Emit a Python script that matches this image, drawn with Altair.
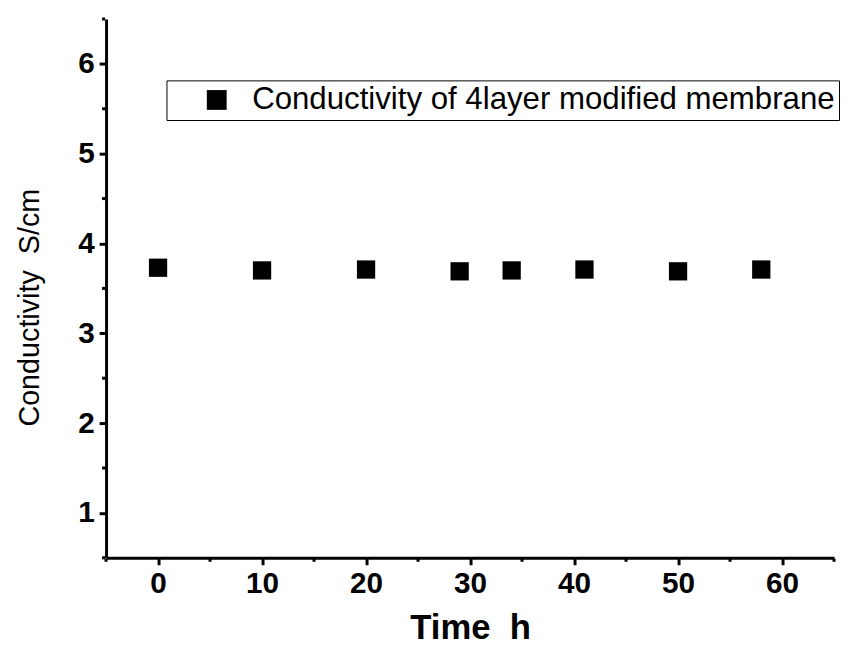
import altair as alt
import pandas as pd

# data
time_h = [0, 10, 20, 29, 34, 41, 50, 58]
conductivity = [3.73, 3.70, 3.71, 3.69, 3.70, 3.71, 3.69, 3.71]
series_name = "Conductivity of 4layer modified membrane"

x_ticks = [0, 10, 20, 30, 40, 50, 60]
x_minor = [-5, 5, 15, 25, 35, 45, 55, 65]
y_ticks = [1, 2, 3, 4, 5, 6]
y_minor = [0.5, 1.5, 2.5, 3.5, 4.5, 5.5, 6.5]

x_title = "Time\u00a0\u00a0h"
y_title = "Conductivity\u00a0\u00a0S/cm"

df = pd.DataFrame({"t": time_h, "c": conductivity, "series": [series_name] * len(time_h)})
dfx = pd.DataFrame({"t": x_minor})
dfy = pd.DataFrame({"c": y_minor})

W, H = 735, 544
FONT = "Liberation Sans"

xscale = alt.Scale(domain=[-5, 65], nice=False, zero=False)
yscale = alt.Scale(domain=[0.5, 6.5], nice=False, zero=False)

points = alt.Chart(df).mark_square(size=340, opacity=1, filled=True).encode(
    x=alt.X("t:Q", scale=xscale,
            axis=alt.Axis(values=x_ticks, format="d", title=x_title, titleFontSize=35,
                          titleFontWeight="bold", titleBaseline="alphabetic",
                          titleY=81, labelPadding=4)),
    y=alt.Y("c:Q", scale=yscale,
            axis=alt.Axis(values=y_ticks, format="d", title=y_title, titleFontSize=29,
                          titleFontWeight="normal", titleAngle=270,
                          titleBaseline="middle", titleAlign="center",
                          titleX=-77, titleY=291, labelPadding=5)),
    color=alt.Color("series:N", scale=alt.Scale(range=["black"]),
                    legend=alt.Legend(title=None, orient="none", legendX=61, legendY=62,
                                      strokeColor="black", fillColor="white",
                                      padding=4, symbolType="square", symbolSize=400,
                                      symbolFillColor="black", symbolStrokeWidth=0,
                                      symbolOffset=31, labelOffset=20,
                                      labelFont=FONT, labelFontSize=31.5, labelColor="black",
                                      labelLimit=0)),
)

xminor = alt.Chart(dfx).mark_rule(color="black", strokeWidth=3).encode(
    x=alt.X("t:Q", scale=xscale),
    y=alt.value(H + 1), y2=alt.value(H + 4),
)
yminor = alt.Chart(dfy).mark_rule(color="black", strokeWidth=3).encode(
    y=alt.Y("c:Q", scale=yscale),
    x=alt.value(-4), x2=alt.value(-1),
)

chart = alt.layer(points, xminor, yminor).properties(
    width=W, height=H,
    autosize=alt.AutoSizeParams(type="none"),
    padding={"left": 99, "top": 8, "right": 6, "bottom": 90},
).configure_view(stroke=None).configure_axis(
    domainColor="black", domainWidth=3, tickColor="black", tickWidth=3, tickSize=7,
    labelFont=FONT, labelFontSize=30, labelFontWeight="bold", labelColor="black",
    titleFont=FONT, titleColor="black", grid=False,
)

chart.save("out.html", embed_options={"renderer": "svg", "actions": False})
